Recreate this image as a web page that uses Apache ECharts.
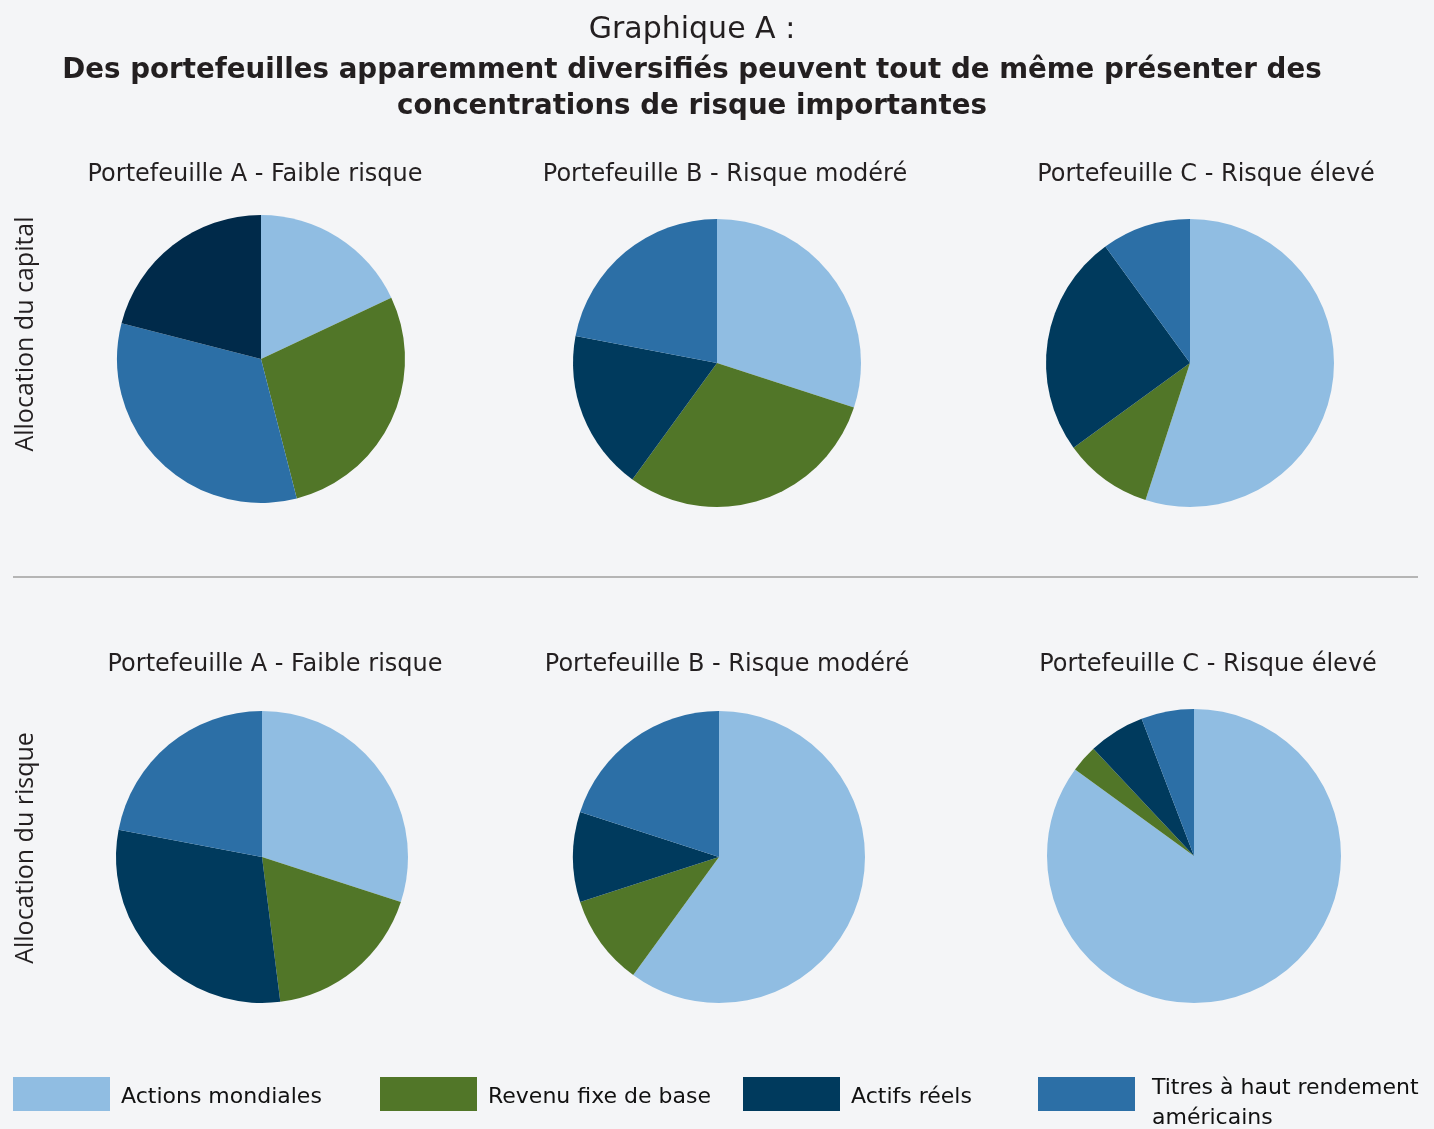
<!DOCTYPE html>
<html>
<head>
<meta charset="utf-8">
<script src="https://cdn.jsdelivr.net/npm/echarts@6/dist/echarts.min.js"></script>
<style>
  html, body { margin: 0; padding: 0; background: #f4f5f7; }
  #chart { width: 1434px; height: 1129px; }
</style>
</head>
<body>
<div id="chart"></div>
<script>
// catégories (ordre de la légende)
var categories = ['Actions mondiales', 'Revenu fixe de base', 'Actifs réels', 'Titres à haut rendement américains'];
var colors = ['#90bde2', '#517628', '#003a5d', '#2c6fa6'];

// valeurs (%), dans l'ordre des catégories
var capitalA = [18, 28, 21, 33];
var capitalB = [30, 30, 18, 22];
var capitalC = [55, 10, 25, 10];
var risqueA = [30, 18, 30, 22];
var risqueB = [60, 10, 10, 20];
var risqueC = [85, 3, 6.2, 5.8];

var pieTitles = ['Portefeuille A - Faible risque', 'Portefeuille B - Risque modéré', 'Portefeuille C - Risque élevé'];

var font = 'DejaVu Sans';

// construit les données d'un camembert ; order = ordre d'affichage horaire
function pieData(values, order, overrides) {
  order = order || [0, 1, 2, 3];
  return order.map(function (i) {
    var c = (overrides && overrides[i]) || colors[i];
    return { name: categories[i], value: values[i], itemStyle: { color: c } };
  });
}

function pie(center, r, data) {
  return {
    type: 'pie',
    center: center,
    radius: r,
    startAngle: 90,
    clockwise: true,
    label: { show: false },
    labelLine: { show: false },
    emphasis: { disabled: true },
    animation: false,
    itemStyle: { borderWidth: 0 },
    data: data
  };
}

function subTitle(text, x, y) {
  return {
    text: text, left: x, top: y, textAlign: 'center', padding: 0,
    textStyle: { fontFamily: font, fontSize: 24, fontWeight: 'normal', color: '#231f20' }
  };
}

var legendLefts = [13, 380, 743, 1038];
// une ligne vide "s" décale le texte sous le centre du carré, comme sur l'original
var legendLabels = [
  '{s| }\n{a|Actions mondiales}',
  '{s| }\n{a|Revenu fixe de base}',
  '{s| }\n{a|Actifs réels}',
  '{t| }\n{a|Titres à haut rendement}\n{a|américains}'
];

var chart = echarts.init(document.getElementById('chart'));
var option = {
  backgroundColor: '#f4f5f7',
  title: [
    { text: 'Graphique A :', left: 692, top: 15, textAlign: 'center', padding: 0,
      textStyle: { fontFamily: font, fontSize: 30, fontWeight: 'normal', color: '#231f20' } },
    { text: 'Des portefeuilles apparemment diversifiés peuvent tout de même présenter des\nconcentrations de risque importantes',
      left: 692, top: 53, textAlign: 'center', padding: 0,
      textStyle: { fontFamily: font, fontSize: 27.7, fontWeight: 'bold', color: '#231f20', lineHeight: 36 } },
    subTitle(pieTitles[0], 255, 163),
    subTitle(pieTitles[1], 725, 163),
    subTitle(pieTitles[2], 1206, 163),
    subTitle(pieTitles[0], 275, 653),
    subTitle(pieTitles[1], 727, 653),
    subTitle(pieTitles[2], 1208, 653)
  ],
  legend: legendLefts.map(function (x, i) {
    return {
      left: x, top: i === 3 ? 1063 : 1077,
      padding: 0,
      itemWidth: 97, itemHeight: 34, itemGap: 0,
      selectedMode: false,
      icon: 'rect',
      data: [{ name: categories[i], itemStyle: { color: colors[i] } }],
      formatter: function () { return legendLabels[i]; },
      textStyle: {
        fontFamily: font, fontSize: 22, color: '#111',
        padding: i === 3 ? [0, 0, 0, 12] : [0, 0, 0, 6],
        rich: {
          s: { fontSize: 2, lineHeight: 6 },
          t: { fontSize: 2, lineHeight: 18 },
          a: { fontFamily: font, fontSize: 22, color: '#111', lineHeight: 30 }
        }
      }
    };
  }),
  graphic: [
    { type: 'line', shape: { x1: 13, y1: 577, x2: 1418, y2: 577 },
      style: { stroke: '#b5b5b5', lineWidth: 2 } },
    { type: 'text', x: 26, y: 334, rotation: Math.PI / 2,
      style: { text: 'Allocation du capital', fontFamily: 'Open Sans', fontSize: 25, fill: '#231f20',
        align: 'center', verticalAlign: 'middle' } },
    { type: 'text', x: 26, y: 848, rotation: Math.PI / 2,
      style: { text: 'Allocation du risque', fontFamily: 'Open Sans', fontSize: 25, fill: '#231f20',
        align: 'center', verticalAlign: 'middle' } }
  ],
  series: [
    pie([261, 359], 144, pieData(capitalA, [0, 1, 3, 2], { 2: '#002a4a' })),
    pie([717, 363], 144, pieData(capitalB)),
    pie([1190, 363], 144, pieData(capitalC)),
    pie([262, 857], 146, pieData(risqueA)),
    pie([719, 857], 146, pieData(risqueB)),
    pie([1194, 856], 147, pieData(risqueC))
  ]
};
chart.setOption(option);
</script>
</body>
</html>
